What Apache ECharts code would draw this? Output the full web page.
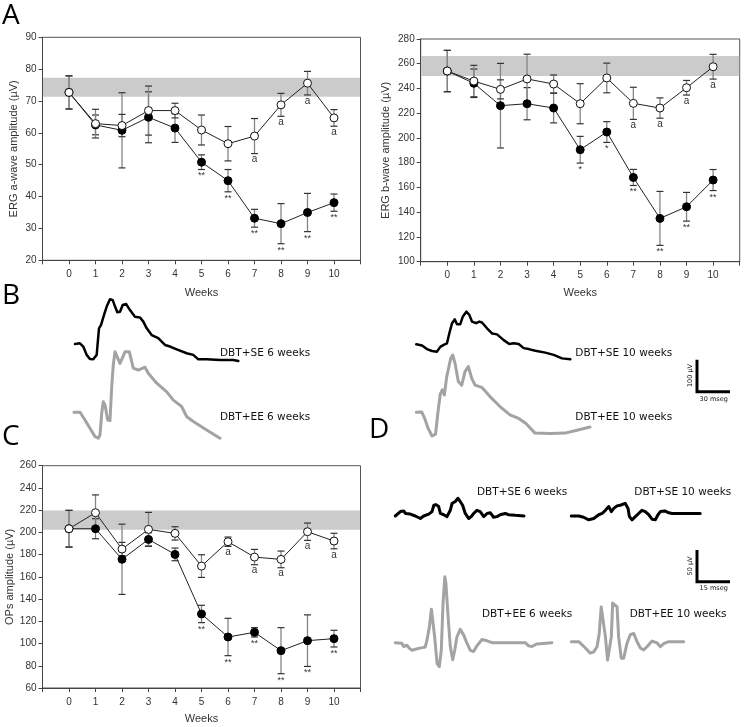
<!DOCTYPE html>
<html><head><meta charset="utf-8">
<script src="https://cdn.jsdelivr.net/npm/echarts@6/dist/echarts.min.js"></script>
<style>html,body{margin:0;padding:0;background:#fff}#c{width:744px;height:727px}</style>
</head><body><div id="c"></div>
<script>
// ---------- DATA ----------
const weeks = [0,1,2,3,4,5,6,7,8,9,10];
const weekLabels = ['0','1','2','3','4','5','6','7','8','9','10'];

// Panel A left: ERG a-wave (µV)
const aOpen      = [72.7, 62.9, 62.3, 67.0, 67.0, 60.9, 56.6, 59.0, 68.8, 75.6, 64.7];
const aOpenErr   = [5.2, 4.5, 3.5, 7.7, 2.3, 4.7, 5.4, 5.5, 3.6, 3.7, 2.6];
const aFilled    = [72.7, 62.5, 60.8, 64.9, 61.5, 50.8, 45.0, 33.2, 31.5, 35.0, 38.1];
const aFilledErr = [5.2, 3.1, 11.8, 8.0, 4.5, 2.3, 3.5, 2.8, 6.3, 6.0, 2.7];
const aBand      = [71.3, 77.3];
const aStars     = ['','','','','','**','**','**','**','**','**'];
const aLetters   = ['','','','','','','','a','a','a','a'];

// Panel A right: ERG b-wave (µV)
const bOpen      = [254.1, 246.0, 239.3, 247.7, 243.6, 227.7, 248.5, 228.0, 224.2, 240.6, 257.6];
const bOpenErr   = [16.7, 12.7, 7.7, 20.0, 7.3, 16.2, 12.0, 13.0, 8.2, 5.9, 10.0];
const bFilled    = [254.1, 244.2, 226.1, 227.7, 224.2, 190.5, 204.8, 168.1, 135.0, 144.4, 166.0];
const bFilledErr = [16.7, 11.5, 34.2, 13.0, 12.0, 10.8, 8.4, 6.5, 21.8, 11.6, 8.5];
const bBand      = [250.1, 266.3];
const bStars     = ['','','','','','*','*','**','**','**','**'];
const bLetters   = ['','','','','','','','a','a','a','a'];

// Panel C: OPs (µV)
const cOpen      = [203.3, 217.7, 185.0, 202.7, 199.1, 169.7, 191.6, 177.8, 175.7, 200.6, 192.2];
const cOpenErr   = [16.5, 16.0, 6.0, 15.3, 6.0, 10.2, 4.2, 6.9, 7.5, 7.8, 7.0];
const cFilled    = [203.3, 203.3, 175.8, 193.7, 180.2, 126.6, 105.9, 110.1, 93.6, 102.6, 104.4];
const cFilledErr = [16.5, 9.0, 31.6, 6.0, 5.7, 7.8, 16.8, 4.2, 20.7, 23.2, 7.5];
const cBand      = [202.4, 219.8];
const cStars     = ['','','','','','**','**','**','**','**','**'];
const cLetters   = ['','','','','','','a','a','a','a','a'];

// Panel B waveforms: [time ms, amplitude µV]
const bSE6 = [[0,0],[4.5,2],[7.5,-8],[10.6,-34],[13.6,-47],[16.6,-48],[19.7,-34],[21.8,49],[23.6,59],[26.4,91],[28.8,117],[31.8,140],[34.3,137],[36.4,117],[38.5,99],[40.9,101],[43.4,122],[46.4,125],[50,106],[54.5,85],[59.1,83],[62.1,70],[65.2,49],[69.7,28],[75.7,18],[81.8,-3],[86.4,-8],[92.5,-17],[101.5,-29],[107.5,-34],[112.1,-48],[119.7,-48],[131.8,-50],[143.9,-50],[148.5,-53]];
const bEE6 = [[0,0],[5.5,0],[10,-24],[14.5,-50],[19.1,-76],[22.1,-81],[23.6,-71],[25.2,-3],[26.6,33],[28.2,23],[30.6,-24],[32.7,-26],[34.3,80],[35.7,148],[37.3,189],[38.8,189],[41.8,153],[46.4,189],[50.3,189],[53.9,138],[58.5,132],[64.5,141],[67.5,122],[75.2,91],[84.3,64],[90.3,38],[97.9,18],[102.5,-14],[108.5,-29],[120.6,-55],[132.7,-81]];
const bSE10 = [[0,0],[5.2,-4],[9.7,-15],[14.3,-21],[18.8,-23],[21.8,-8],[24.9,-2],[27.9,3],[30,34],[32.5,66],[34.9,78],[37,63],[40,63],[42.2,86],[45.5,102],[48.2,92],[50.6,71],[54.3,66],[57.3,71],[59.7,68],[64.3,50],[68.8,34],[73.4,31],[79.5,13],[84.5,1],[88.5,3],[93.1,1],[97.6,-12],[102.2,-15],[108.2,-20],[117.3,-26],[124.9,-33],[132.5,-44],[140,-47]];
const bEE10 = [[0,0],[4.9,1],[7.5,-18],[10.6,-49],[14.3,-74],[17.5,-68],[19.7,1],[21.8,57],[23.6,70],[25.5,54],[27.6,110],[31.3,169],[33.1,179],[35.2,153],[38.2,96],[41.3,85],[44.3,127],[47.3,143],[50.4,106],[53.4,85],[59.5,78],[67,49],[76.1,18],[85.2,-8],[92.5,-18],[99.7,-35],[107.9,-65],[121.5,-66],[135.2,-65],[148.8,-54],[157.9,-46]];
const bScale = {uV: 100, ms: 30, uVText: '100 µV', msText: '30 mseg'};

// Panel D oscillatory potentials: [time ms, amplitude µV]
const dSE6 = [[0,0],[2.3,7],[3.8,8],[4.7,4],[6.8,3],[9.1,0],[11.4,-4],[12.9,0],[15.2,3],[16.7,7],[17.5,17],[18.5,18],[19.7,15],[20.5,4],[22,2],[23.5,-1],[25,9],[25.8,20],[27.3,23],[28.5,28],[29.5,23],[30.6,17],[31.8,4],[33.4,-4],[34.5,-1],[35.6,4],[37.1,9],[38.6,7],[40.2,-1],[41.7,4],[43.2,5],[44.7,-2],[46.2,-1],[47.7,2],[50,4],[51.5,2],[54.5,1],[58.5,0]];
const dSE10 = [[0,0],[3.4,0],[5.6,-2],[7.9,-6],[10.2,-4],[12.5,2],[14,4],[15.5,9],[17,15],[18.2,7],[19.3,12],[20.8,16],[22.3,17],[24.5,20],[25.8,12],[26.4,-1],[27.6,-6],[29.1,-1],[30.6,4],[32.1,9],[33.6,7],[35.2,2],[36.7,-5],[38.2,-6],[39.4,2],[40.5,7],[42.5,8],[44.3,5],[45.8,4],[58.6,4]];
const dEE6 = [[0,0],[3,-1],[3.8,-6],[5.3,-4],[6.4,-9],[7.6,-12],[8.4,-9],[10.6,-9],[13.6,-7],[14.4,4],[15.5,25],[16.4,53],[17.1,53],[17.9,9],[19,-33],[20,-38],[20.9,-12],[21.7,62],[22.5,104],[23,94],[24,41],[25,-6],[26.1,-27],[27,-12],[28,9],[29.5,21],[31.1,12],[32.6,-1],[34.1,-12],[35.6,-14],[37.1,-5],[39.4,5],[41.7,3],[44,0],[50,0],[59.1,0],[60.6,-5],[62.1,-6],[64.4,-2],[71.2,0]];
const dEE10 = [[0,0],[3.4,0],[6.4,-10],[8.6,-18],[10.2,-16],[11.7,-8],[12.7,13],[13.6,55],[14.4,53],[15.5,8],[16.5,-29],[17.3,-26],[18.2,8],[18.8,61],[19.7,63],[20.8,55],[21.5,8],[22.7,-26],[23.8,-26],[25.3,-3],[26.8,11],[28.4,13],[29.9,0],[31.4,-10],[32.9,-13],[34.4,-8],[36.7,1],[39,-2],[40.5,-8],[42,-3],[44.3,0],[51.1,0]];
const dScale = {uV: 50, ms: 15, uVText: '50 µV', msText: '15 mseg'};

// ---------- LAYOUT / STYLE ----------
const AXIS_FONT = "'Liberation Sans', Arial, sans-serif";
const TXT_FONT = "'DejaVu Sans', Verdana, sans-serif";
const GRAY = '#a3a3a3';

const grids = [], xAxes = [], yAxes = [], series = [];

function addMainChart(box, yRange, yName, yNameGap, xNameGap, open, openErr, filled, filledErr, band, stars, letters) {
  const gi = grids.length;
  grids.push({left: box.left, top: box.top, width: box.width, height: box.height,
    show: true, borderColor: '#555', borderWidth: 1, backgroundColor: 'transparent', outerBoundsMode: 'none'});
  xAxes.push({gridIndex: gi, type: 'value', min: -1, max: 11, interval: 1,
    axisLine: {show: true, onZero: false, lineStyle: {color: '#444', width: 1}},
    axisTick: {show: true, length: 4, inside: false, lineStyle: {color: '#444'}},
    axisLabel: {fontSize: 10, color: '#333', fontFamily: AXIS_FONT, margin: 9,
      formatter: v => (v >= 0 && v <= 10) ? weekLabels[v] : ''},
    splitLine: {show: false},
    name: 'Weeks', nameLocation: 'middle', nameGap: xNameGap,
    nameTextStyle: {fontSize: 11, color: '#333', fontFamily: AXIS_FONT}});
  yAxes.push({gridIndex: gi, type: 'value', min: yRange[0], max: yRange[1], interval: yRange[2],
    axisLine: {show: true, onZero: false, lineStyle: {color: '#444', width: 1}},
    axisTick: {show: true, length: 4, inside: false, lineStyle: {color: '#444'}},
    axisLabel: {fontSize: 10, color: '#333', fontFamily: AXIS_FONT, margin: 6},
    splitLine: {show: false},
    name: yName, nameLocation: 'middle', nameGap: yNameGap, nameRotate: 90,
    nameTextStyle: {fontSize: 11, color: '#333', fontFamily: AXIS_FONT}});
  const ax = {xAxisIndex: gi, yAxisIndex: gi};
  // reference band
  series.push(Object.assign({type: 'custom', z: 1, silent: true, data: [[0, band[0]]],
    encode: {x: 0, y: 1},
    renderItem: (params, api) => {
      const cs = params.coordSys;
      const yTop = api.coord([0, band[1]])[1], yBot = api.coord([0, band[0]])[1];
      return {type: 'rect', shape: {x: cs.x + 0.5, y: yTop, width: cs.width - 1, height: yBot - yTop}, style: {fill: '#cbcbcb'}};
    }}, ax));
  // error bars
  const errSeries = (vals, errs) => Object.assign({type: 'custom', z: 2, silent: true,
    data: weeks.map((w, i) => [w, vals[i], errs[i]]), encode: {x: 0, y: 1},
    renderItem: (params, api) => {
      const x = api.value(0), v = api.value(1), e = api.value(2);
      const t = api.coord([x, v + e]), b = api.coord([x, v - e]);
      const w = 3.5;
      return {type: 'group', children: [
        {type: 'line', shape: {x1: t[0], y1: t[1], x2: b[0], y2: b[1]}, style: {stroke: '#858585', lineWidth: 1.3}},
        {type: 'line', shape: {x1: t[0] - w, y1: t[1], x2: t[0] + w, y2: t[1]}, style: {stroke: '#333', lineWidth: 1.2}},
        {type: 'line', shape: {x1: b[0] - w, y1: b[1], x2: b[0] + w, y2: b[1]}, style: {stroke: '#333', lineWidth: 1.2}}
      ]};
    }}, ax);
  series.push(errSeries(filled, filledErr));
  series.push(errSeries(open, openErr));
  // lines with markers
  series.push(Object.assign({type: 'line', z: 3, data: weeks.map((w, i) => [w, filled[i]]),
    symbol: 'circle', symbolSize: 8, showSymbol: true,
    itemStyle: {color: '#000', borderColor: '#000', borderWidth: 1},
    lineStyle: {color: '#222', width: 1}}, ax));
  series.push(Object.assign({type: 'line', z: 4, data: weeks.map((w, i) => [w, open[i]]),
    symbol: 'circle', symbolSize: 8, showSymbol: true,
    itemStyle: {color: '#fff', borderColor: '#111', borderWidth: 1},
    lineStyle: {color: '#222', width: 1}}, ax));
  // annotations
  const annSeries = (texts, vals, errs, fs, dy) => Object.assign({type: 'custom', z: 5, silent: true,
    data: weeks.map((w, i) => [w, vals[i] - errs[i]]), encode: {x: 0, y: 1},
    renderItem: (params, api) => {
      const i = params.dataIndex;
      if (!texts[i]) return null;
      const p = api.coord([weeks[i], vals[i] - errs[i]]);
      return {type: 'text', x: p[0], y: p[1] + dy,
        style: {text: texts[i], align: 'center', verticalAlign: 'top', fontSize: fs, fontFamily: AXIS_FONT, fill: '#333'}};
    }}, ax);
  series.push(annSeries(stars, filled, filledErr, 9, 2));
  series.push(annSeries(letters, open, openErr, 10, 1));
}

addMainChart({left: 42.5, top: 37.3, width: 318, height: 223}, [20, 90, 10],
  'ERG a-wave amplitude (µV)', 23, 27, aOpen, aOpenErr, aFilled, aFilledErr, aBand, aStars, aLetters);
addMainChart({left: 420.7, top: 39, width: 319, height: 222.7}, [100, 280, 20],
  'ERG b-wave amplitude (µV)', 29, 26, bOpen, bOpenErr, bFilled, bFilledErr, bBand, bStars, bLetters);
addMainChart({left: 42.5, top: 465.7, width: 318, height: 222.3}, [60, 260, 20],
  'OPs amplitude (µV)', 24, 25.5, cOpen, cOpenErr, cFilled, cFilledErr, cBand, cStars, cLetters);

// waveform panels: each trace in its own hidden-axis grid; place = start x, baseline y, px per ms, px per µV
function addTrace(trace, place, color, width) {
  const gi = grids.length;
  const tmax = Math.max(...trace.map(p => p[0]));
  const vmin = Math.min(0, ...trace.map(p => p[1]));
  const vmax = Math.max(0, ...trace.map(p => p[1]));
  grids.push({left: place.x, top: place.y - vmax * place.pxUv, width: tmax * place.pxMs,
    height: Math.max(1, (vmax - vmin) * place.pxUv), show: false, outerBoundsMode: 'none'});
  xAxes.push({gridIndex: gi, type: 'value', min: 0, max: tmax, show: false});
  yAxes.push({gridIndex: gi, type: 'value', min: vmin, max: vmax, show: false});
  series.push({type: 'line', xAxisIndex: gi, yAxisIndex: gi, data: trace, showSymbol: false, symbol: 'none',
    clip: false, z: 3, lineStyle: {color: color, width: width, join: 'round', cap: 'round'}});
}
function addScaleBar(scale, place) {
  const gi = grids.length;
  grids.push({left: place.x, top: place.y - scale.uV * place.pxUv, width: scale.ms * place.pxMs,
    height: scale.uV * place.pxUv, show: false, outerBoundsMode: 'none'});
  xAxes.push({gridIndex: gi, type: 'value', min: 0, max: scale.ms, show: false});
  yAxes.push({gridIndex: gi, type: 'value', min: 0, max: scale.uV, show: false});
  series.push({type: 'line', xAxisIndex: gi, yAxisIndex: gi, data: [[0, scale.uV], [0, 0], [scale.ms, 0]],
    showSymbol: false, symbol: 'none', clip: false, z: 3, lineStyle: {color: '#000', width: 3, join: 'miter', cap: 'butt'}});
}

const B_MS = 1.1, B_UV = 0.32, D_MS = 2.2, D_UV = 0.633;
addTrace(bSE6,  {x: 75,    y: 344,   pxMs: B_MS, pxUv: B_UV}, '#000', 2.5);
addTrace(bEE6,  {x: 74,    y: 412.3, pxMs: B_MS, pxUv: B_UV}, GRAY, 3);
addTrace(bSE10, {x: 416.3, y: 344.3, pxMs: B_MS, pxUv: B_UV}, '#000', 2.5);
addTrace(bEE10, {x: 416.3, y: 412.3, pxMs: B_MS, pxUv: B_UV}, GRAY, 3);
addScaleBar(bScale, {x: 697, y: 391.7, pxMs: B_MS, pxUv: B_UV});

addTrace(dSE6,  {x: 395.3, y: 516,   pxMs: D_MS, pxUv: D_UV}, '#000', 3);
addTrace(dSE10, {x: 571.3, y: 516,   pxMs: D_MS, pxUv: D_UV}, '#000', 3);
addTrace(dEE6,  {x: 395.3, y: 642.7, pxMs: D_MS, pxUv: D_UV}, GRAY, 3);
addTrace(dEE10, {x: 571.3, y: 641.7, pxMs: D_MS, pxUv: D_UV}, GRAY, 3);
addScaleBar(dScale, {x: 697, y: 581.7, pxMs: D_MS, pxUv: D_UV});

// text graphics
const letter = (t, x, y) => ({type: 'text', x: x, y: y, style: {text: t, fontSize: 28, fontFamily: "'Open Sans', sans-serif", fill: '#000', align: 'left', verticalAlign: 'middle'}});
const lab = (t, x, y) => ({type: 'text', x: x, y: y, style: {text: t, fontSize: 10.5, fontFamily: TXT_FONT, fill: '#111', align: 'left', verticalAlign: 'middle'}});
const small = (t, x, y, rot) => ({type: 'text', x: x, y: y, rotation: rot || 0, style: {text: t, fontSize: 6.5, fontFamily: TXT_FONT, fill: '#111', align: 'center', verticalAlign: 'middle'}});

const graphic = [
  letter('A', 2, 16), letter('B', 2, 296.5), letter('C', 2, 437.5), letter('D', 369, 430.5),
  lab('DBT+SE 6 weeks', 220, 353), lab('DBT+EE 6 weeks', 220, 417.7),
  lab('DBT+SE 10 weeks', 575.3, 353), lab('DBT+EE 10 weeks', 575.3, 417.7),
  lab('DBT+SE 6 weeks', 477, 492.5), lab('DBT+SE 10 weeks', 634.3, 492.5),
  lab('DBT+EE 6 weeks', 482, 614.3), lab('DBT+EE 10 weeks', 629.7, 614.3),
  small(bScale.uVText, 690.5, 375.5, Math.PI / 2), small(bScale.msText, 713.7, 399),
  small(dScale.uVText, 690.5, 566, Math.PI / 2), small(dScale.msText, 713.7, 588.5)
];

const chart = echarts.init(document.getElementById('c'), null, {renderer: 'canvas'});
chart.setOption({animation: false, backgroundColor: '#fff', grid: grids, xAxis: xAxes, yAxis: yAxes, series: series, graphic: graphic});
</script></body></html>
